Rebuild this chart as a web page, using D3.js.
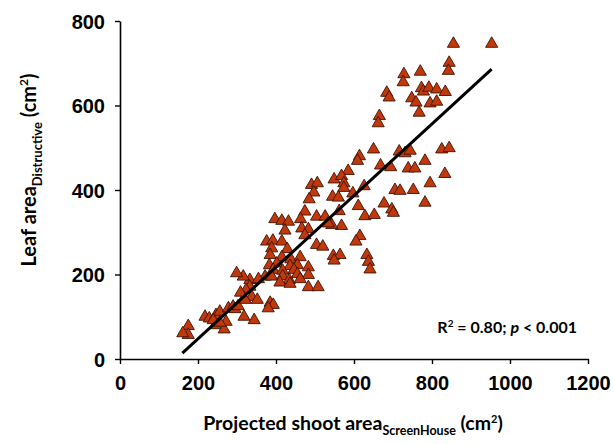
<!DOCTYPE html>
<html>
<head>
<meta charset="utf-8">
<script src="https://cdn.jsdelivr.net/npm/d3@7"></script>
<style>
  body { margin: 0; background: #fff; }
  svg { display: block; }
</style>
</head>
<body>
<div id="chart"></div>
<script>
// projected shoot area (cm2) vs destructive leaf area (cm2)
var shootArea = [855, 953, 844, 842, 770, 728, 726, 684, 690, 773, 778, 792, 812, 834, 748, 759, 795, 812, 767, 665, 662,
    650, 614, 609, 716, 731, 744, 825, 844, 782, 585, 668, 694, 739, 756, 833, 549, 568, 574, 574, 626, 597, 795, 705, 718, 752,
    545, 560, 677, 697, 701, 782, 611, 562, 628, 652, 568, 543, 615, 605, 633, 637, 641,
    491, 506, 497, 485, 474, 397, 415, 432, 463, 504, 526, 534, 423, 466, 483, 474, 376, 392, 415, 504, 520, 389, 429,
    547, 564, 549, 385, 415, 438, 462, 383, 402, 436, 455, 483, 393, 417, 446, 455, 483, 372, 389, 417, 434, 462,
    333, 355, 410, 436, 483, 508, 316, 333, 323, 318, 338, 352, 385, 393, 380,
    175, 175, 161, 218, 229, 246, 256, 278, 290, 244, 267, 272, 239, 256, 318, 344, 295, 303, 309, 321, 299];
var leafArea = [746, 746, 701, 682, 680, 674, 655, 630, 619, 641, 633, 642, 638, 632, 617, 607, 605, 609, 583, 575, 558,
    496, 480, 469, 491, 487, 493, 496, 499, 469, 445, 458, 454, 451, 451, 438, 425, 433, 416, 405, 409, 392, 416, 400, 398, 400,
    384, 382, 368, 354, 346, 370, 362, 350, 338, 341, 315, 317, 291, 278, 246, 230, 212,
    412, 416, 394, 378, 349, 331, 327, 325, 331, 337, 337, 321, 304, 309, 307, 293, 278, 280, 278, 270, 266, 262, 260,
    244, 246, 233, 246, 241, 236, 241, 222, 226, 220, 222, 217, 211, 209, 211, 201, 199, 195, 195, 196, 187, 189,
    187, 189, 181, 178, 170, 170, 195, 171, 163, 144, 147, 140, 133, 128, 120,
    78, 57, 61, 100, 96, 104, 112, 120, 124, 80, 70, 88, 92, 86, 100, 92, 118, 125, 157, 140, 203];

// fitted line ends
var fitX = [160, 953];
var fitY = [14, 686];

var xTicks = [0, 200, 400, 600, 800, 1000, 1200];
var yTicks = [0, 200, 400, 600, 800];

var width = 614, height = 444;
var margin = {left: 120, right: 26, top: 21, bottom: 85};

var data = shootArea.map(function(d, i) { return {x: d, y: leafArea[i]}; });

var svg = d3.select("#chart").append("svg").attr("width", width).attr("height", height);

var xScale = d3.scaleLinear()
    .domain([0, 1200])
    .range([margin.left, width - margin.right]);

var yScale = d3.scaleLinear()
    .domain([0, 800])
    .range([height - margin.bottom, margin.top]);

var axisx = d3.axisBottom(xScale).tickValues(xTicks).tickFormat(d3.format("d"))
    .tickSize(5).tickSizeOuter(0).tickPadding(12);
var axisy = d3.axisLeft(yScale).tickValues(yTicks).tickFormat(d3.format("d"))
    .tickSize(5).tickSizeOuter(0).tickPadding(10);

var gx = svg.append("g")
    .attr("transform", "translate(0," + (height - margin.bottom) + ")")
    .call(axisx);
var gy = svg.append("g")
    .attr("transform", "translate(" + margin.left + ",0)")
    .call(axisy);

[gx, gy].forEach(function(g) {
    g.select(".domain").attr("stroke", "#000").attr("stroke-width", 1.6);
    g.selectAll(".tick line").attr("stroke", "#000").attr("stroke-width", 1.4);
    g.selectAll(".tick text")
        .attr("fill", "#000")
        .attr("font-family", "'Liberation Sans', Arial, sans-serif")
        .attr("font-weight", "bold")
        .attr("font-size", "20px");
});
gx.selectAll(".tick text").attr("dy", "0.71em");
gy.selectAll(".tick text").attr("dy", "0.35em");

// points
svg.append("g")
    .selectAll("path")
    .data(data)
    .enter()
    .append("path")
    .attr("transform", function(d) { return "translate(" + xScale(d.x) + "," + yScale(d.y) + ")"; })
    .attr("d", d3.symbol().type(d3.symbolTriangle).size(64))
    .attr("fill", "#c1390b")
    .attr("stroke", "#3d1205")
    .attr("stroke-width", 0.9);

// regression line
var fitLine = d3.line()
    .x(function(d) { return xScale(d[0]); })
    .y(function(d) { return yScale(d[1]); });
svg.append("path")
    .attr("d", fitLine(fitX.map(function(d, i) { return [d, fitY[i]]; })))
    .attr("stroke", "#000")
    .attr("stroke-width", 3)
    .attr("fill", "none");

// axis titles
var titleFont = "Lato, 'Open Sans', sans-serif";
var xt = svg.append("text")
    .attr("x", 353)
    .attr("y", 430)
    .attr("text-anchor", "middle")
    .attr("font-family", titleFont)
    .attr("font-weight", "bold")
    .attr("font-size", "19.5px")
    .attr("fill", "#000");
xt.append("tspan").text("Projected shoot area");
xt.append("tspan").attr("font-size", "12.5px").attr("dy", 5).text("ScreenHouse");
xt.append("tspan").attr("dy", -5).text(" (cm");
xt.append("tspan").attr("font-size", "11px").attr("dy", -7).text("2");
xt.append("tspan").attr("dy", 7).text(")");

var yt = svg.append("text")
    .attr("transform", "translate(36," + 170 + ") rotate(-90)")
    .attr("text-anchor", "middle")
    .attr("font-family", titleFont)
    .attr("font-weight", "bold")
    .attr("font-size", "20px")
    .attr("fill", "#000");
yt.append("tspan").text("Leaf area");
yt.append("tspan").attr("font-size", "13px").attr("dy", 6).text("Distructive");
yt.append("tspan").attr("dy", -6).text(" (cm");
yt.append("tspan").attr("font-size", "12px").attr("dy", -8).text("2");
yt.append("tspan").attr("dy", 8).text(")");

// statistics label
var st = svg.append("text")
    .attr("x", 577)
    .attr("y", 333)
    .attr("text-anchor", "end")
    .attr("font-family", titleFont)
    .attr("font-weight", "bold")
    .attr("font-size", "16px")
    .attr("fill", "#000");
st.append("tspan").text("R");
st.append("tspan").attr("font-size", "10px").attr("dy", -6).text("2");
st.append("tspan").attr("dy", 6).text(" = 0.80; ");
st.append("tspan").attr("font-style", "italic").text("p");
st.append("tspan").text(" < 0.001");
</script>
</body>
</html>
